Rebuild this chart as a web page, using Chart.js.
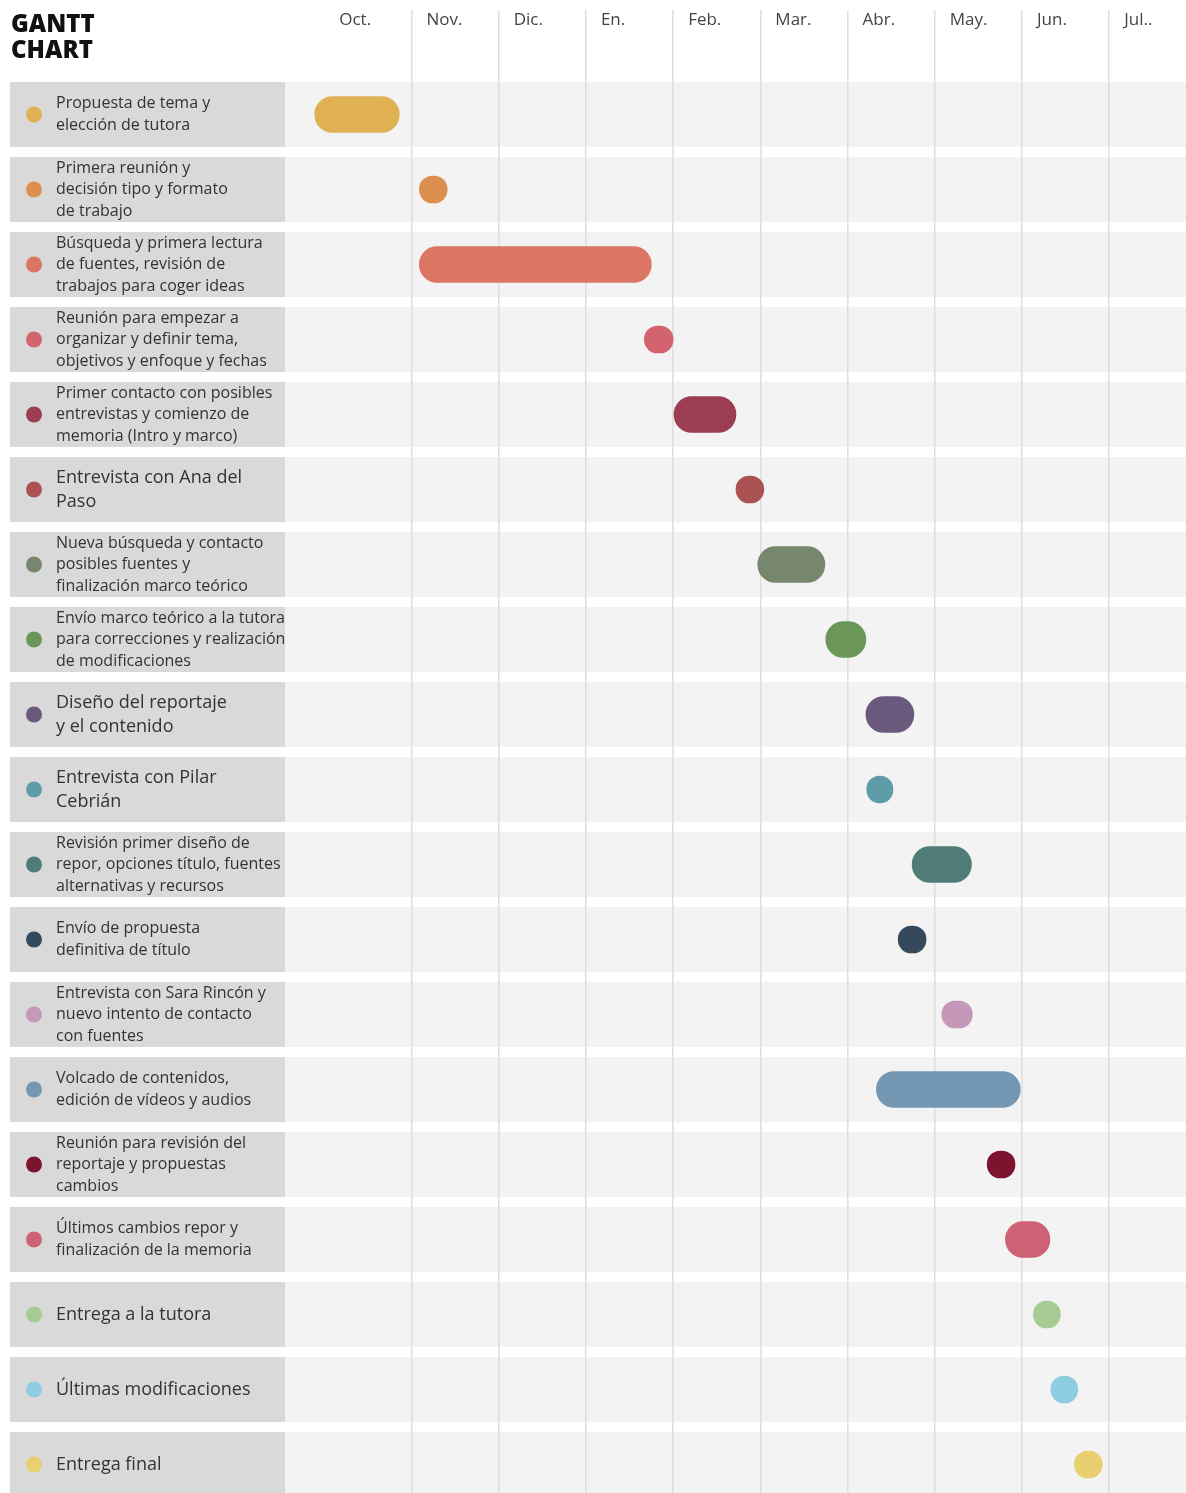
<!DOCTYPE html>
<html>
<head>
<meta charset="utf-8">
<script src="https://cdn.jsdelivr.net/npm/chart.js@4.4.0/dist/chart.umd.min.js"></script>
<style>
  html, body { margin: 0; padding: 0; background: #fff; overflow: hidden; }
  #wrap { position: relative; width: 1186px; height: 1502px; }
  #gantt { display: block; }
  #title {
    position: absolute; left: 11px; top: 10px;
    font: 800 24px/26px "Open Sans", sans-serif; color: #111;
  }
</style>
</head>
<body>
<div id="wrap">
  <canvas id="gantt" width="1186" height="1502"></canvas>
  <div id="title">GANTT<br>CHART</div>
</div>
<script>
var months = ["Oct.", "Nov.", "Dic.", "En.", "Feb.", "Mar.", "Abr.", "May.", "Jun.", "Jul.."]

var tasks = [
  ["Propuesta de tema y", "elección de tutora"],
  ["Primera reunión y", "decisión tipo y formato", "de trabajo"],
  ["Búsqueda y primera lectura", "de fuentes, revisión de", "trabajos para coger ideas"],
  ["Reunión para empezar a", "organizar y definir tema,", "objetivos y enfoque y fechas"],
  ["Primer contacto con posibles", "entrevistas y comienzo de", "memoria (Intro y marco)"],
  ["Entrevista con Ana del", "Paso"],
  ["Nueva búsqueda y contacto", "posibles fuentes y", "finalización marco teórico"],
  ["Envío marco teórico a la tutora", "para correcciones y realización", "de modificaciones"],
  ["Diseño del reportaje", "y el contenido"],
  ["Entrevista con Pilar", "Cebrián"],
  ["Revisión primer diseño de", "repor, opciones título, fuentes", "alternativas y recursos"],
  ["Envío de propuesta", "definitiva de título"],
  ["Entrevista con Sara Rincón y", "nuevo intento de contacto", "con fuentes"],
  ["Volcado de contenidos,", "edición de vídeos y audios"],
  ["Reunión para revisión del", "reportaje y propuestas", "cambios"],
  ["Últimos cambios repor y", "finalización de la memoria"],
  "Entrega a la tutora",
  "Últimas modificaciones",
  "Entrega final",
]

// months counted from the start of October
var taskStart = [-0.11, 1.09, 1.09, 3.67, 4.01, 4.72, 4.97, 5.75, 6.21, 6.22, 6.74, 6.58, 7.08, 6.33, 7.6, 7.81, 8.13, 8.33, 8.6]
var taskEnd = [0.86, 1.41, 3.75, 4.0, 4.72, 5.04, 5.74, 6.21, 6.76, 6.52, 7.42, 6.9, 7.43, 7.98, 7.92, 8.32, 8.44, 8.64, 8.92]

var taskColors = [
  "#E0B152", "#DD8F4F", "#DA7663", "#D2636F", "#9B3D53", "#AA5352", "#77876D",
  "#6B9659", "#6A587D", "#5E9DA8", "#4F7C77", "#34495C", "#C597B8", "#7497B3",
  "#7C1430", "#CD6274", "#A7CB95", "#8ECCE1", "#E8CF70",
]

var bigLabelRows = [5, 8, 9, 16, 17, 18]

// short tasks are drawn as dots, long ones as pills
var longData = tasks.map(function (t, i) {
  return taskEnd[i] - taskStart[i] >= 0.4 ? [taskStart[i], taskEnd[i]] : null
})
var shortData = tasks.map(function (t, i) {
  return taskEnd[i] - taskStart[i] < 0.4 ? [taskStart[i], taskEnd[i]] : null
})

var rowBands = {
  id: "rowBands",
  beforeDraw: function (chart) {
    var ctx = chart.ctx
    var y = chart.scales.y
    var area = chart.chartArea
    ctx.save()
    tasks.forEach(function (t, i) {
      var cy = y.getPixelForValue(i)
      ctx.fillStyle = "#f3f3f3"
      ctx.fillRect(area.left, cy - 32.5, area.right - area.left, 65)
      ctx.fillStyle = "#d9d9d9"
      ctx.fillRect(10, cy - 32.5, area.left - 10, 65)
      ctx.fillStyle = taskColors[i]
      ctx.beginPath()
      ctx.arc(34, cy, 8, 0, Math.PI * 2)
      ctx.fill()
    })
    ctx.restore()
  },
}

var ctx = document.getElementById("gantt").getContext("2d")
var ganttChart = new Chart(ctx, {
  type: "bar",
  data: {
    labels: tasks,
    datasets: [
      {
        label: "Tareas",
        data: longData,
        backgroundColor: taskColors,
        barThickness: 36,
        borderRadius: 18,
        borderSkipped: false,
        grouped: false,
      },
      {
        label: "Hitos",
        data: shortData,
        backgroundColor: taskColors,
        barThickness: 27,
        borderRadius: 14,
        borderSkipped: false,
        grouped: false,
      },
    ],
  },
  options: {
    indexAxis: "y",
    responsive: false,
    animation: false,
    layout: { padding: { left: 56, top: 0, right: 0, bottom: 0 } },
    plugins: {
      legend: { display: false },
      tooltip: { enabled: false },
    },
    scales: {
      x: {
        type: "linear",
        position: "top",
        min: -0.45,
        max: 9.88,
        afterBuildTicks: function (scale) {
          scale.ticks = months.map(function (m, i) {
            return { value: i }
          })
        },
        afterFit: function (scale) {
          scale.height = 77
        },
        grid: {
          color: function (c) {
            return c.tick && c.tick.value === 0 ? "rgba(0,0,0,0)" : "#dedede"
          },
          lineWidth: 1.5,
          tickLength: 67,
        },
        border: { display: false },
        ticks: {
          align: "start",
          labelOffset: 15,
          padding: -20,
          autoSkip: false,
          maxRotation: 0,
          color: "#444",
          font: { family: "Open Sans", size: 17 },
          callback: function (v) {
            return months[v]
          },
        },
      },
      y: {
        afterFit: function (scale) {
          scale.width = 229
          // labels sit inside the rows, no extra room needed above/below
          scale.paddingTop = 0
          scale.paddingBottom = 0
        },
        grid: { display: false },
        border: { display: false },
        ticks: {
          crossAlign: "far",
          autoSkip: false,
          color: "#333",
          font: function (c) {
            var big = bigLabelRows.indexOf(c.index) >= 0
            return { family: "Open Sans", size: big ? 18 : 16, lineHeight: 1.34 }
          },
        },
      },
    },
  },
  plugins: [rowBands],
})
</script>
</body>
</html>
